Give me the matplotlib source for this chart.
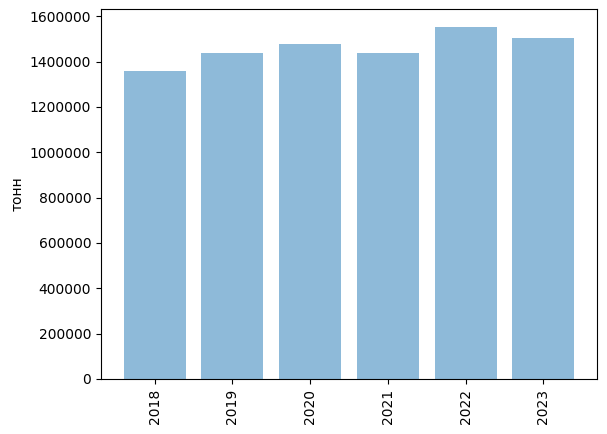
import matplotlib
matplotlib.use("Agg")
import matplotlib.pyplot as plt

years = ["2018", "2019", "2020", "2021", "2022", "2023"]
values = [1358000, 1438000, 1478000, 1438000, 1554000, 1505000]
ylabel = "тонн"

fig = plt.figure(figsize=(6.07, 4.34), dpi=100)
ax = fig.add_axes([101/607, (434-379)/434, 496/607, 370/434])
ax.bar(years, values, alpha=0.5)
ax.set_ylabel(ylabel)
ax.ticklabel_format(axis="y", style="plain")
plt.setp(ax.get_xticklabels(), rotation=90)
fig.savefig("out.png", dpi=100)
